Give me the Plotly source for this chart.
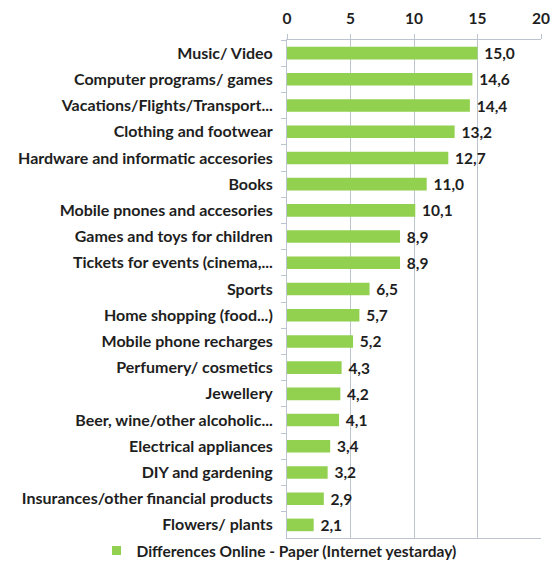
import plotly.graph_objects as go

categories = [
    "Music/ Video",
    "Computer programs/ games",
    "Vacations/Flights/Transport...",
    "Clothing and footwear",
    "Hardware and informatic accesories",
    "Books",
    "Mobile pnones and accesories",
    "Games and toys for children",
    "Tickets for events (cinema,...",
    "Sports",
    "Home shopping (food...)",
    "Mobile phone recharges",
    "Perfumery/ cosmetics",
    "Jewellery",
    "Beer, wine/other alcoholic...",
    "Electrical appliances",
    "DIY and gardening",
    "Insurances/other financial products",
    "Flowers/ plants",
]
values = [15.0, 14.6, 14.4, 13.2, 12.7, 11.0, 10.1, 8.9, 8.9, 6.5,
          5.7, 5.2, 4.3, 4.2, 4.1, 3.4, 3.2, 2.9, 2.1]
series_name = "Differences Online - Paper (Internet yestarday)"
x_ticks = [0, 5, 10, 15, 20]

GREEN = "#92D050"
TEXT = "#1e1e1e"
GRID = "#bcc4cf"
FONT = "Lato"

fig = go.Figure()

# Bars (legend entry drawn by a separate square marker)
fig.add_trace(
    go.Bar(
        x=values,
        y=categories,
        orientation="h",
        name=series_name,
        showlegend=False,
        marker=dict(color=GREEN, line=dict(width=0)),
        width=0.48,
        text=values,
        texttemplate=" %{x:.1f}",
        textposition="outside",
        constraintext="none",
        cliponaxis=False,
        textfont=dict(family=FONT, size=15.5, color=TEXT, weight="bold"),
    )
)

# Square legend key
fig.add_trace(
    go.Scatter(
        x=[None],
        y=[None],
        mode="markers",
        name=series_name,
        marker=dict(symbol="square", size=9, color=GREEN),
        showlegend=True,
    )
)

fig.update_layout(
    width=558,
    height=568,
    margin=dict(l=287, r=17, t=40, b=30, autoexpand=False),
    paper_bgcolor="white",
    plot_bgcolor="white",
    separators=", ",
    font=dict(family=FONT, size=15.5, color=TEXT, weight="bold"),
    showlegend=True,
    legend=dict(
        orientation="h",
        xref="container",
        x=0.5,
        xanchor="center",
        yref="paper",
        y=-0.026,
        yanchor="middle",
        font=dict(family=FONT, size=15.5, color=TEXT, weight="bold"),
        itemwidth=30,
        bgcolor="rgba(0,0,0,0)",
    ),
)

fig.update_xaxes(
    side="top",
    range=[0, 20],
    tickvals=x_ticks,
    ticks="outside",
    ticklen=5,
    tickcolor=GRID,
    showgrid=True,
    gridcolor=GRID,
    gridwidth=1,
    showline=True,
    linecolor=GRID,
    mirror=True,
    zeroline=False,
    ticklabelstandoff=4,
    tickfont=dict(family=FONT, size=15.5, color=TEXT, weight="bold"),
)

fig.update_yaxes(
    categoryorder="array",
    categoryarray=categories,
    autorange="reversed",
    ticks="outside",
    tickson="boundaries",
    ticklen=5,
    tickcolor=GRID,
    showline=True,
    linecolor=GRID,
    showgrid=False,
    ticklabelstandoff=10,
    tickfont=dict(family=FONT, size=16, color=TEXT, weight="bold"),
)

fig.write_html("out.html")
